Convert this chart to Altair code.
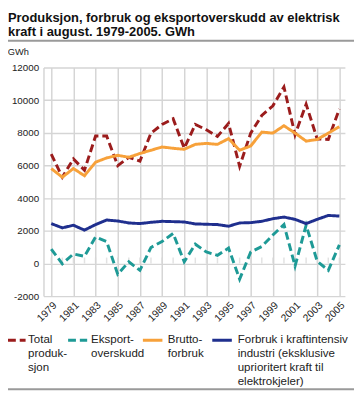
import altair as alt
import pandas as pd

years = list(range(1979, 2006))
total = [6700, 5280, 6400, 5710, 7800, 7800, 5990, 6500, 6260, 7980, 8510, 8860, 7050, 8510,
         8180, 7780, 8570, 5950, 7980, 9060, 9650, 10800, 7880, 9750, 7620, 7590, 9460]
export = [880, -20, 580, 440, 1620, 1340, -660, 100, -420, 980, 1340, 1840, 100, 1180,
          700, 500, 940, -960, 700, 1040, 1740, 2380, -160, 2340, 140, -420, 1140]
brutto = [5810, 5280, 5810, 5370, 6200, 6460, 6620, 6500, 6730, 6930, 7130, 7050, 6990, 7290,
          7350, 7290, 7640, 6930, 7190, 8040, 7980, 8430, 7980, 7490, 7590, 7980, 8370]
industry = [2440, 2180, 2340, 2040, 2380, 2660, 2600, 2480, 2440, 2520, 2580, 2560, 2540, 2420,
            2400, 2380, 2280, 2480, 2500, 2580, 2740, 2840, 2700, 2440, 2700, 2940, 2900]

series = ["Total produksjon", "Eksportoverskudd", "Bruttoforbruk",
          "Forbruk i kraftintensiv industri (eksklusive uprioritert kraft til elektrokjeler)"]
legend_lines = [["Total", "produk-", "sjon"], ["Eksport-", "overskudd"], ["Brutto-", "forbruk"],
                ["Forbruk i kraftintensiv", "industri (eksklusive", "uprioritert kraft til",
                 "elektrokjeler)"]]
colors = ["#9b1c1c", "#1e9a96", "#f7a13a", "#1f2f8e"]
dashes = [[8, 4], [8, 4], [1, 0], [1, 0]]

title_lines = ["Produksjon, forbruk og eksportoverskudd av elektrisk",
               "kraft i august. 1979-2005. GWh"]

rows = []
for s, vals in zip(series, [total, export, brutto, industry]):
    for yr, v in zip(years, vals):
        rows.append({"year": yr, "value": v, "series": s})
df = pd.DataFrame(rows)

# ---- layout (pixels) ----
W, H = 308.4, 234
PL, PT = 36.3, 56.3
PR = 354 - PL - W
PB = 389 - PT - H
OX, OY = 8 + PL, 8 + PT          # page position of plot origin
FONT = "Liberation Sans"
GRID = "#d5d5d5"
TXT = "#222222"
RULE = "#9a9a9a"

x = alt.X("year:Q", scale=alt.Scale(domain=[1978.3, 2005.5], nice=False, zero=False),
          axis=alt.Axis(values=years[::2], labelExpr="'' + datum.value", labelAngle=-45,
                        labelAlign="right", labelBaseline="top", labelOverlap=False,
                        labelFlush=False, labelBound=False,
                        grid=True, ticks=False, domain=False, title=None,
                        labelFontSize=10.5, labelPadding=4))
y = alt.Y("value:Q", scale=alt.Scale(domain=[-2000, 12000], nice=False),
          axis=alt.Axis(values=list(range(-2000, 12001, 2000)), labelExpr="'' + datum.value",
                        labelOverlap=False, labelFlush=False, labelBound=False,
                        title="GWh", titleAngle=0, titleAlign="left", titleBaseline="middle",
                        titleX=7.3 - OX, titleY=48.5 - OY, titleFontWeight="normal",
                        titleFontSize=9.5, titleColor=TXT, ticks=False, domain=True,
                        labelPadding=5, labelFontSize=10))

lines = alt.Chart(df).mark_line(strokeWidth=3, strokeCap="butt").encode(
    x=x, y=y,
    color=alt.Color("series:N", scale=alt.Scale(domain=series, range=colors), sort=series,
                    legend=None),
    strokeDash=alt.StrokeDash("series:N", scale=alt.Scale(domain=series, range=dashes),
                              sort=series, legend=None),
)

ticks_df = pd.DataFrame({"year": years, "value": [0] * len(years)})
minor = alt.Chart(ticks_df).mark_tick(orient="vertical", size=6, thickness=1.5, color=GRID,
                                      yOffset=-3).encode(x=x, y=y)

one = pd.DataFrame({"k": [0]})
layers = [minor, lines]

# separator under the title
layers.append(alt.Chart(one).mark_rule(color=RULE, strokeWidth=2).encode(
    x=alt.value(8 - OX), x2=alt.value(362 - OX), y=alt.value(37 - OY)))
# separator under the legend (drawn as a thin rect)
layers.append(alt.Chart(one).mark_rect(color=RULE).encode(
    x=alt.value(8 - OX), x2=alt.value(362 - OX),
    y=alt.value(392.5 - OY), y2=alt.value(394.5 - OY)))

# title
layers.append(alt.Chart(one).mark_text(
    align="left", baseline="alphabetic", lineBreak="\n", lineHeight=14.5, fontSize=13.2,
    fontWeight="bold", font=FONT, color="#111111").encode(
    x=alt.value(8 - OX), y=alt.value(18 - OY), text=alt.value("\n".join(title_lines))))

# legend
sym_x0 = [8, 69.5, 146, 217]
sym_x1 = [26, 89, 166, 237]
lab_x = [28.5, 93, 171.5, 243]
sym_y, lab_y = 343.5, 346.5
for i in range(len(series)):
    layers.append(alt.Chart(one).mark_rule(color=colors[i], strokeWidth=3,
                                           strokeDash=dashes[i]).encode(
        x=alt.value(sym_x0[i] - OX), x2=alt.value(sym_x1[i] - OX), y=alt.value(sym_y - OY)))
    layers.append(alt.Chart(one).mark_text(
        align="left", baseline="alphabetic", lineBreak="\n", lineHeight=14.3, fontSize=11.8,
        font=FONT, color=TXT).encode(
        x=alt.value(lab_x[i] - OX), y=alt.value(lab_y - OY),
        text=alt.value("\n".join(legend_lines[i]))))

chart = alt.layer(*layers).properties(
    width=W, height=H,
    autosize=alt.AutoSizeParams(type="none"),
    padding={"left": PL, "top": PT, "right": PR, "bottom": PB},
).configure(font=FONT).configure_axis(
    labelColor=TXT, gridColor=GRID, gridWidth=1.5, domainColor=GRID, domainWidth=1.5,
    labelFont=FONT, titleFont=FONT, labelOverlap=False,
).configure_view(strokeWidth=0)

chart.save("out.html", embed_options={"renderer": "svg", "actions": False})
